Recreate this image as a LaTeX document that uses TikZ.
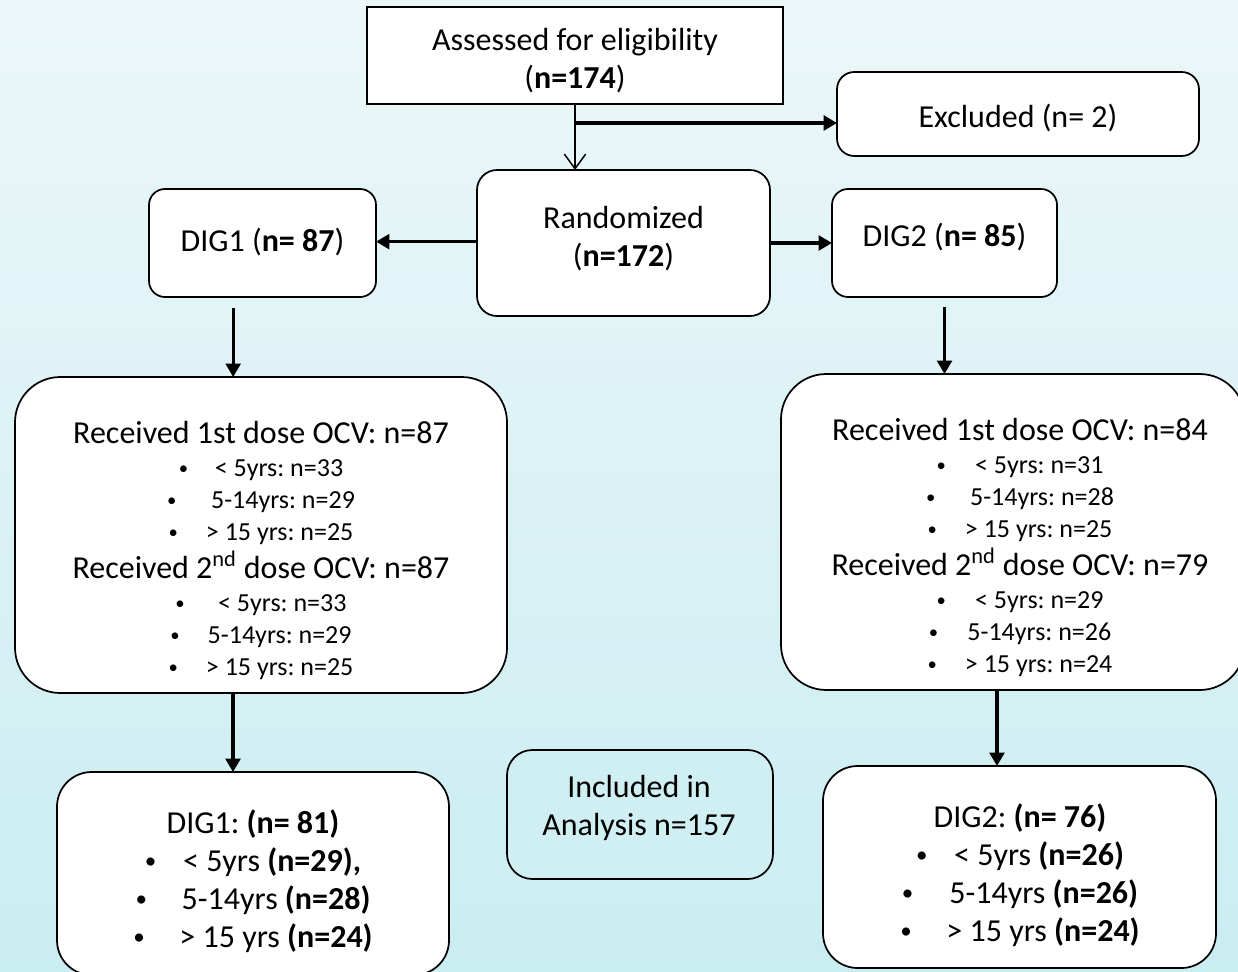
\documentclass[tikz,border=0pt]{standalone}
\usepackage{fontspec}
\setmainfont{Carlito}
\usetikzlibrary{arrows.meta}
\definecolor{bgtop}{RGB}{236,247,249}
\definecolor{bgbot}{RGB}{202,237,241}
\definecolor{inclfill}{RGB}{207,239,242}
\newcommand{\bul}{\raisebox{0.08em}{\scalebox{0.72}{\textbullet}}}
\frenchspacing
\begin{document}
\begin{tikzpicture}[x=0.75pt,y=-0.75pt,
  box/.style={draw=black, line width=1.3pt, fill=white, inner sep=0pt, outer sep=0pt},
  txt/.style={font=\fontsize{24}{28.5}\selectfont, align=center, inner sep=0pt, anchor=north},
  txtb/.style={font=\fontsize{24}{28.5}\selectfont, inner sep=0pt, anchor=base},
  small/.style={font=\fontsize{19.5}{24}\selectfont, align=center, inner sep=0pt, anchor=north},
  conn/.style={line width=2.4pt, -{Triangle[length=10pt,width=11pt]}},
  thin/.style={line width=1.1pt, -{Straight Barb[length=11pt,width=16pt,line width=1.1pt]}}
]
\useasboundingbox (0,0) rectangle (1238,971);
\clip (0,0) rectangle (1238,971);
\shade[top color=bgtop, bottom color=bgbot] (0,0) rectangle (1238,971);

% boxes
\node[box, minimum width=312pt, minimum height=72.75pt] (assess) at (575,55.5) {};
\node[box, rounded corners=13pt, minimum width=271.5pt, minimum height=63pt] (excl) at (1018,114) {};
\node[box, rounded corners=15pt, minimum width=219.75pt, minimum height=109.5pt] (rand) at (623.5,243) {};
\node[box, rounded corners=12pt, minimum width=170.25pt, minimum height=81pt] (dig1) at (262.5,243) {};
\node[box, rounded corners=12pt, minimum width=168.75pt, minimum height=81pt] (dig2) at (944.5,243) {};
\node[box, rounded corners=34pt, minimum width=369pt, minimum height=237pt] (big1) at (261,535) {};
\node[box, rounded corners=34pt, minimum width=348pt, minimum height=237pt] (big2) at (1013,532) {};
\node[box, rounded corners=26pt, minimum width=294pt, minimum height=152.25pt] (bot1) at (253,873.5) {};
\node[box, rounded corners=26pt, minimum width=294.75pt, minimum height=151.5pt] (bot2) at (1019.5,867) {};
\node[box, fill=inclfill, rounded corners=19pt, minimum width=199.5pt, minimum height=96.75pt] (incl) at (640,814.5) {};

% texts
\node[txt] (tassess) at (575,28.5) {Assessed for eligibility\\(\textbf{n=174})};
\node[txtb] (texcl) at (1018,127) {Excluded (n= 2)};
\node[txt] (trand) at (623.5,206.5) {Randomized\\(\textbf{n=172})};
\node[txtb] (tdig1) at (262.5,251) {DIG1 (\textbf{n= 87})};
\node[txtb] (tdig2) at (944.5,246) {DIG2 (\textbf{n= 85})};
\node[small] (tbig1) at (261,421) {%
  {\fontsize{24}{28.5}\selectfont Received 1st dose OCV: n=87}\\[1pt]
  \bul\hspace{20pt}< 5yrs: n=33\\
  \bul\hspace{26pt}5-14yrs: n=29\\
  \bul\hspace{21pt}> 15 yrs: n=25\\[4pt]
  {\fontsize{24}{28.5}\selectfont Received 2\textsuperscript{nd} dose OCV: n=87}\\[1pt]
  \bul\hspace{25pt}< 5yrs: n=33\\
  \bul\hspace{21pt}5-14yrs: n=29\\
  \bul\hspace{21pt}> 15 yrs: n=25};
\node[small] (tbig2) at (1020,418) {%
  {\fontsize{24}{28.5}\selectfont Received 1st dose OCV: n=84}\\[1pt]
  \bul\hspace{22pt}< 5yrs: n=31\\
  \bul\hspace{26pt}5-14yrs: n=28\\
  \bul\hspace{21pt}> 15 yrs: n=25\\[4pt]
  {\fontsize{24}{28.5}\selectfont Received 2\textsuperscript{nd} dose OCV: n=79}\\[1pt]
  \bul\hspace{22pt}< 5yrs: n=29\\
  \bul\hspace{22pt}5-14yrs: n=26\\
  \bul\hspace{21pt}> 15 yrs: n=24};
\node[txt] (tbot1) at (253,809) {%
  DIG1: \textbf{(n= 81)}\\
  \bul\hspace{20pt}< 5yrs \textbf{(n=29),}\\
  \bul\hspace{26pt}5-14yrs \textbf{(n=28)}\\
  \bul\hspace{26pt}> 15 yrs \textbf{(n=24)}};
\node[txt] (tbot2) at (1020,803) {%
  DIG2: \textbf{(n= 76)}\\
  \bul\hspace{20pt}< 5yrs \textbf{(n=26)}\\
  \bul\hspace{27pt}5-14yrs \textbf{(n=26)}\\
  \bul\hspace{26pt}> 15 yrs \textbf{(n=24)}};
\node[txt] (tincl) at (639,775) {Included in\\Analysis n=157};

% connectors
\draw[thin] (assess.south) -- (assess.south |- rand.north);
\coordinate (br) at ([yshift=-14.25pt]assess.south);
\draw[conn, line width=2.8pt] (br) -- (br -| excl.west);
\draw[conn] ([yshift=1pt]rand.west) -- ([yshift=1pt]rand.west -| dig1.east);
\draw[conn] (rand.east) -- (dig2.west);
\draw[conn] ([xshift=-22pt,yshift=-8.25pt]dig1.south) -- ([xshift=-22pt]dig1.south |- big1.north);
\draw[conn] ([yshift=-7.5pt]dig2.south) -- (dig2.south |- big2.north);
\draw[conn] ([xshift=-21pt]big1.south) -- ([xshift=-21pt]big1.south |- bot1.north);
\draw[conn] ([xshift=-12pt]big2.south) -- ([xshift=-12pt]big2.south |- bot2.north);
\end{tikzpicture}
\end{document}
